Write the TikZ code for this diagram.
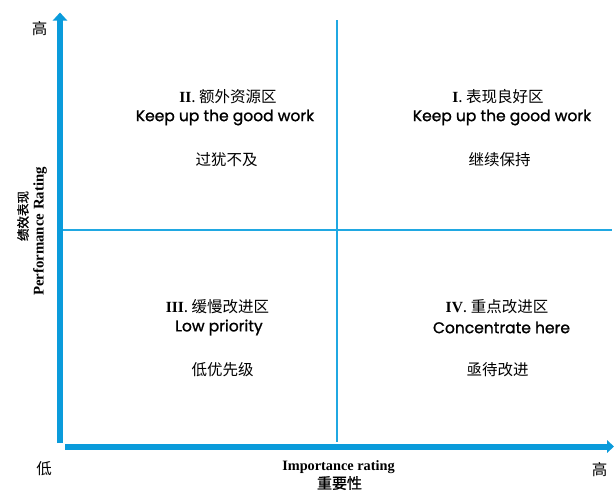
\documentclass[tikz,border=0pt]{standalone}
\usepackage{fontspec}
\setmainfont{Liberation Serif}
\newfontfamily\cjk{Noto Sans CJK SC}
\newfontfamily\cjkb[FakeBold=1.2]{Noto Sans CJK SC}
\newfontfamily\quadfont[FakeBold=1.2]{Poppins}
\usetikzlibrary{arrows.meta}
\definecolor{axisblue}{HTML}{0A9BDB}
\definecolor{divblue}{HTML}{20A8E2}
\tikzset{
  yaxis/.style={line width=6pt, axisblue, -{Triangle[length=8pt,width=14pt]}},
  xaxis/.style={line width=6pt, axisblue, -{Triangle[length=7pt,width=12.5pt]}},
  divider/.style={line width=2pt, divblue},
  qtitle/.style={font=\cjk\fontsize{15.5}{17}\selectfont, inner sep=0pt},
  qeng/.style={font=\quadfont\fontsize{15.5}{17}\selectfont, inner sep=0pt},
  qcn/.style={font=\cjk\fontsize{15.5}{17}\selectfont, inner sep=0pt},
  lbl/.style={font=\cjk\fontsize{15.5}{17}\selectfont, inner sep=0pt},
}
\newcommand{\rnum}[1]{{\rmfamily\bfseries #1}}
\begin{document}
\begin{tikzpicture}[x=1pt,y=-1pt]
\useasboundingbox (0,0) rectangle (614,491);
% coordinates
\coordinate (ybot) at (60,443);
\coordinate (ytop) at (60,12.5);
\coordinate (xleft) at (65,446.5);
\coordinate (xright) at (614,446.5);
\coordinate (vtop) at (337,20);
\coordinate (vbot) at (337,442);
\coordinate (hleft) at (63,230);
\coordinate (hright) at (612,230);
% dividers
\draw[divider] (vtop) -- (vbot);
\draw[divider] (hleft) -- (hright);
% axes
\draw[yaxis] (ybot) -- (ytop);
\draw[xaxis] (xleft) -- (xright);
% axis labels
\node[lbl] (yhigh) at (39.5,29) {高};
\node[lbl] (ylow) at (44,469) {低};
\node[lbl] (xhigh) at (599.5,469.5) {高};
\node[font=\cjkb\fontsize{12.5}{14}\selectfont, inner sep=0pt, rotate=90] (ylabelcn) at (23,216) {绩效表现};
\node[font=\fontsize{14.8}{17}\selectfont\bfseries, inner sep=0pt, rotate=90] (ylabelen) at (40,231.5) {Performance Rating};
\node[font=\fontsize{14.3}{16}\selectfont\bfseries, inner sep=0pt] (xlabelen) at (338.5,467) {Importance rating};
\node[font=\cjkb\fontsize{15}{17}\selectfont, inner sep=0pt] (xlabelcn) at (339.5,483) {重要性};
% quadrant II
\node[qtitle] (q2t) at (228,97) {\rnum{II}. 额外资源区};
\node[qeng] (q2e) at (225,117.5) {Keep up the good work};
\node[qcn] (q2c) at (226.5,160) {过犹不及};
% quadrant I
\node[qtitle] (q1t) at (498,97) {\rnum{I}. 表现良好区};
\node[qeng] (q1e) at (502,117.5) {Keep up the good work};
\node[qcn] (q1c) at (499.5,160) {继续保持};
% quadrant III
\node[qtitle] (q3t) at (217.5,307) {\rnum{III}. 缓慢改进区};
\node[qeng] (q3e) at (219,327.5) {Low priority};
\node[qcn] (q3c) at (222.5,370) {低优先级};
% quadrant IV
\node[qtitle] (q4t) at (497,307) {\rnum{IV}. 重点改进区};
\node[qeng] (q4e) at (501.5,327.5) {Concentrate here};
\node[qcn] (q4c) at (497.5,370) {亟待改进};
\end{tikzpicture}
\end{document}
